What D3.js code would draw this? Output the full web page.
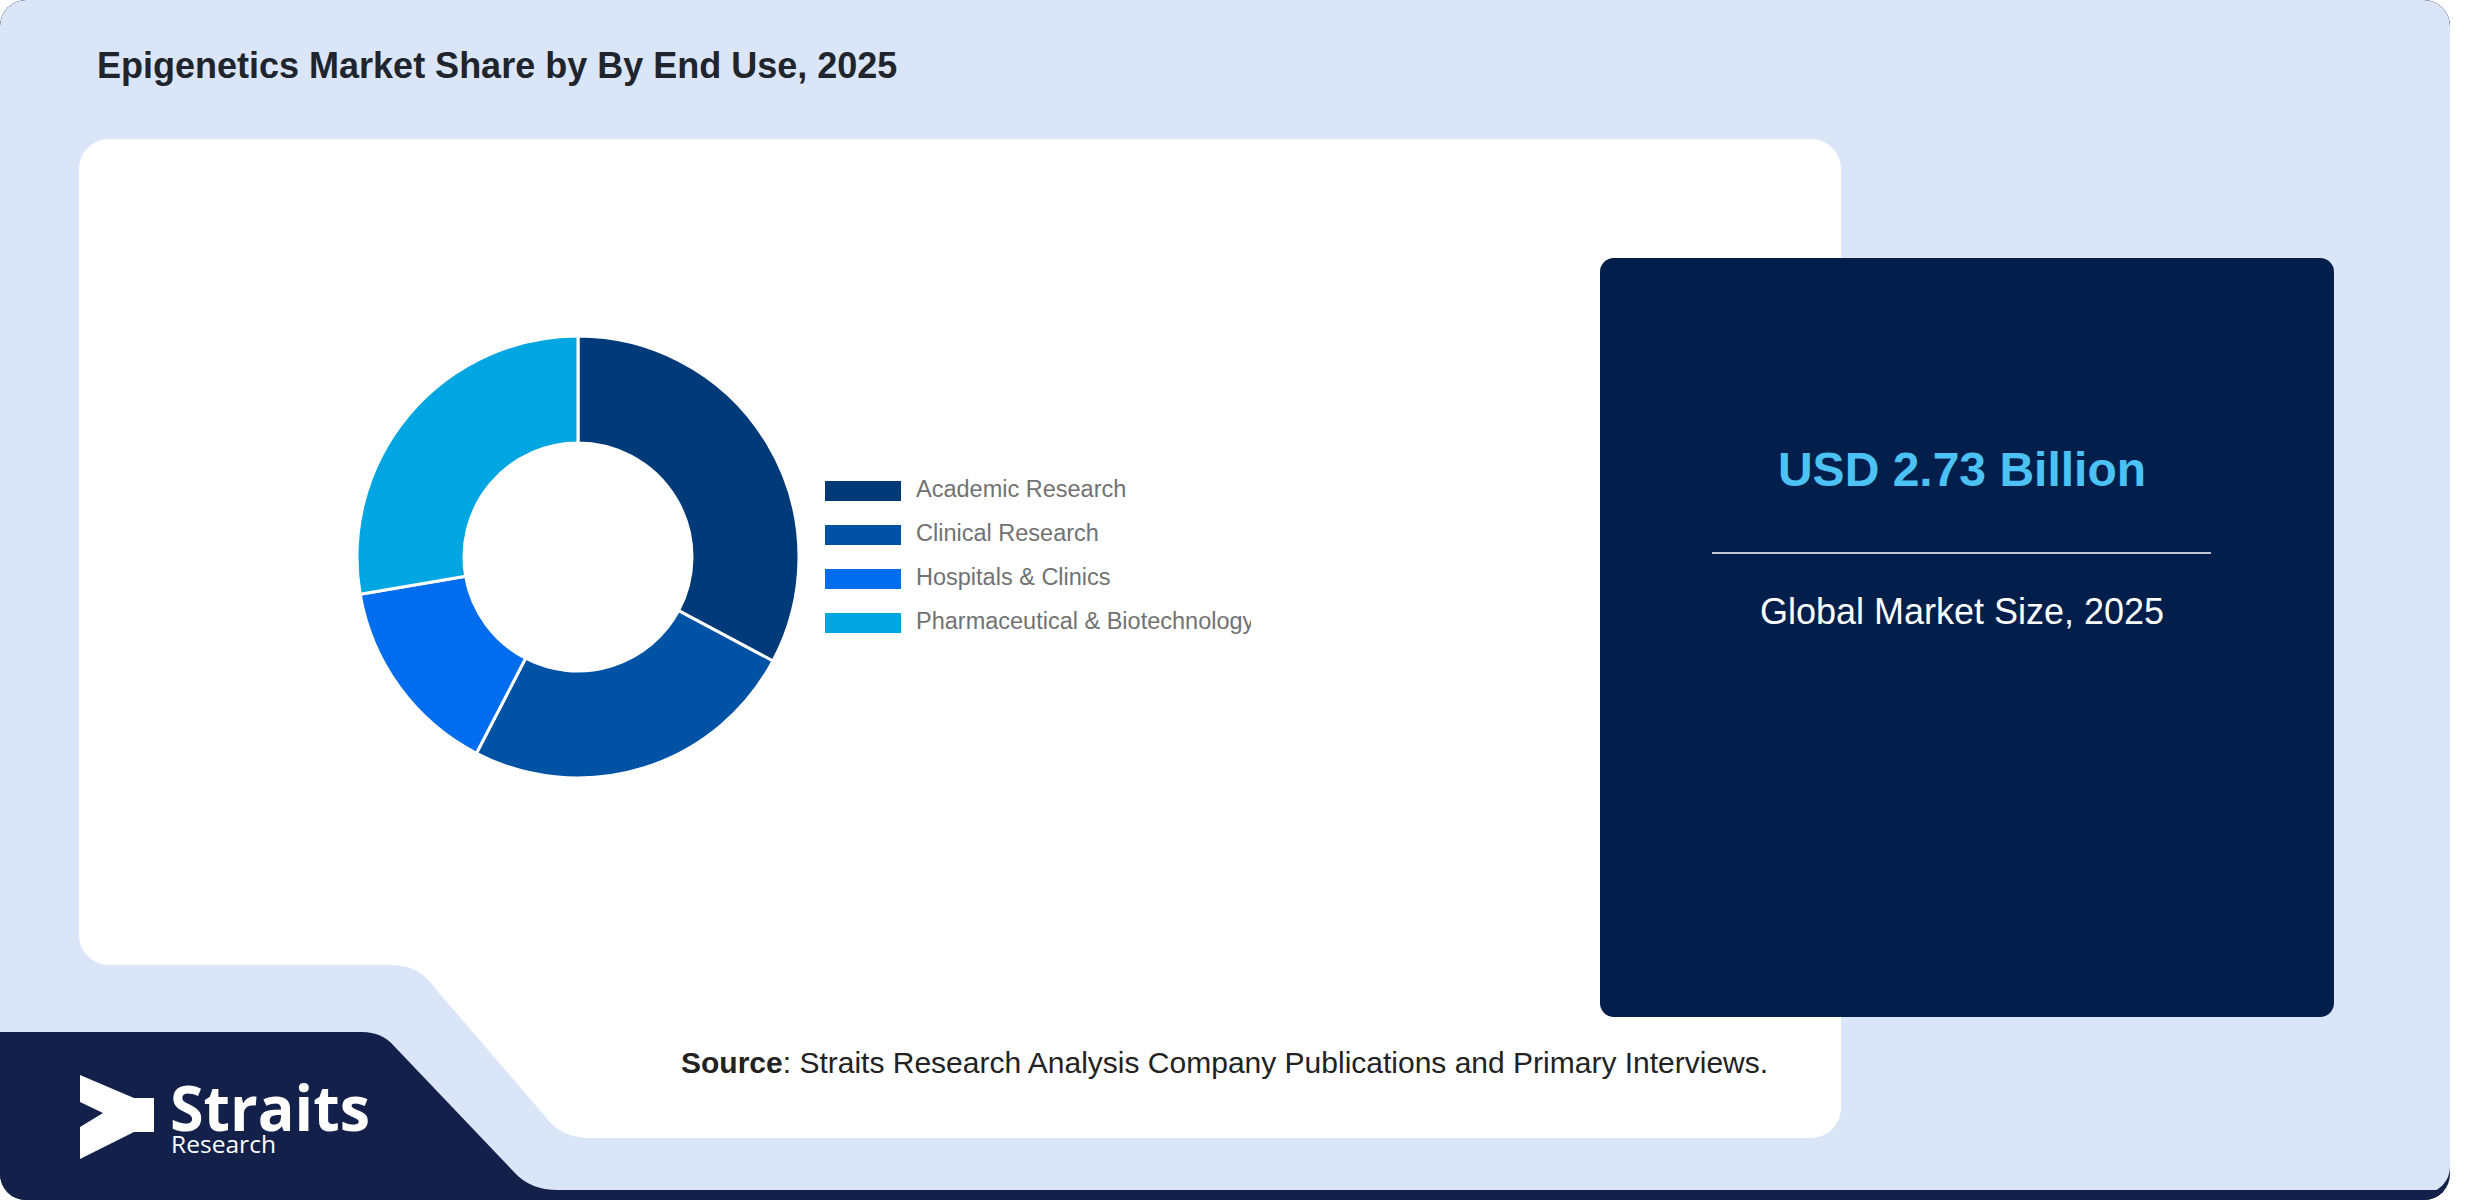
<!DOCTYPE html>
<html>
<head>
<meta charset="utf-8">
<script src="https://cdn.jsdelivr.net/npm/d3@7"></script>
<style>
  html, body { margin: 0; padding: 0; background: #ffffff; }
  svg { display: block; }
</style>
</head>
<body>
<script>
// ---- Data ----
const categories = ["Academic Research", "Clinical Research", "Hospitals & Clinics", "Pharmaceutical & Biotechnology"];
const shares = [32.8, 24.8, 14.7, 27.7];
const colors = ["#013a78", "#0052a4", "#006cee", "#00a6e2"];
const titleText = "Epigenetics Market Share by By End Use, 2025";
const marketValue = "USD 2.73 Billion";
const marketLabel = "Global Market Size, 2025";
const sourceBold = "Source";
const sourceRest = ": Straits Research Analysis Company Publications and Primary Interviews.";

const W = 2480, H = 1200;
const svg = d3.select("body").append("svg").attr("width", W).attr("height", H);
const defs = svg.append("defs");

// outer card clip
defs.append("clipPath").attr("id", "outerClip")
  .append("rect").attr("x", 0).attr("y", 0).attr("width", 2450).attr("height", 1200).attr("rx", 26).attr("ry", 26);

const outer = svg.append("g").attr("clip-path", "url(#outerClip)");
// dark strip behind
outer.append("rect").attr("x", 0).attr("y", 0).attr("width", 2450).attr("height", 1200).attr("fill", "#13204a");
// light blue card
outer.append("rect").attr("x", 0).attr("y", 0).attr("width", 2450).attr("height", 1193).attr("rx", 26).attr("ry", 26).attr("fill", "#dae6f8");

// dark logo block
outer.append("path")
  .attr("d", "M0,1032 H362 Q382,1032 394,1046 L514,1172 Q530,1190 558,1190 H2450 V1200 H0 Z")
  .attr("fill", "#13204a");

// white panel
outer.append("path")
  .attr("d", "M109,139 H1811 A30,30 0 0 1 1841,169 V1108 A30,30 0 0 1 1811,1138 H592 Q564,1138 550,1122 L434,987 Q418,965 392,965 H109 A30,30 0 0 1 79,935 V169 A30,30 0 0 1 109,139 Z")
  .attr("fill", "#ffffff");

// title
svg.append("text")
  .attr("x", 97).attr("y", 78)
  .attr("font-family", "'Liberation Sans', Arial, sans-serif")
  .attr("font-weight", "bold")
  .attr("font-size", 36)
  .attr("fill", "#20242c")
  .text(titleText);

// ---- Donut ----
const cx = 578, cy = 557;
const pie = d3.pie().sort(null).value(d => d)(shares);
const arc = d3.arc().innerRadius(114).outerRadius(221);
const donut = svg.append("g").attr("transform", `translate(${cx},${cy})`);
donut.selectAll("path").data(pie).join("path")
  .attr("d", arc)
  .attr("fill", (d, i) => colors[i])
  .attr("stroke", "#ffffff")
  .attr("stroke-width", 3);

// ---- Legend ----
defs.append("clipPath").attr("id", "legendClip")
  .append("rect").attr("x", 800).attr("y", 440).attr("width", 451).attr("height", 220);
const legend = svg.append("g").attr("clip-path", "url(#legendClip)");
const ly = d3.scalePoint().domain(categories).range([490, 622]);
const items = legend.selectAll("g").data(categories).join("g")
  .attr("transform", d => `translate(825,${ly(d)})`);
items.append("rect").attr("x", 0).attr("y", -9).attr("width", 76).attr("height", 20)
  .attr("fill", (d, i) => colors[i]);
items.append("text").attr("x", 91).attr("y", -1).attr("dy", "0.35em")
  .attr("font-family", "'Liberation Sans', Arial, sans-serif")
  .attr("font-size", 23.5)
  .attr("fill", "#727272")
  .text(d => d);

// ---- Dark info card ----
svg.append("rect").attr("x", 1600).attr("y", 258).attr("width", 734).attr("height", 759)
  .attr("rx", 14).attr("ry", 14).attr("fill", "#011f4a");
svg.append("text").attr("x", 1962).attr("y", 486).attr("text-anchor", "middle")
  .attr("font-family", "'Liberation Sans', Arial, sans-serif")
  .attr("font-weight", "bold").attr("font-size", 48)
  .attr("fill", "#4cc2f4").text(marketValue);
svg.append("line").attr("x1", 1712).attr("x2", 2211).attr("y1", 553).attr("y2", 553)
  .attr("stroke", "#ffffff").attr("stroke-width", 1.6);
svg.append("text").attr("x", 1962).attr("y", 624).attr("text-anchor", "middle")
  .attr("font-family", "'Liberation Sans', Arial, sans-serif")
  .attr("font-size", 36).attr("fill", "#ffffff").text(marketLabel);

// ---- Source ----
const src = svg.append("text").attr("x", 681).attr("y", 1073)
  .attr("font-family", "'Liberation Sans', Arial, sans-serif")
  .attr("font-size", 30).attr("fill", "#222222");
src.append("tspan").attr("font-weight", "bold").text(sourceBold);
src.append("tspan").text(sourceRest);

// ---- Logo ----
svg.append("path")
  .attr("d", "M80,1075 L134,1098 L154,1098 L154,1132 L134,1132 L80,1159 L80,1127 L103,1113 L80,1102 Z")
  .attr("fill", "#ffffff");
svg.append("text").attr("x", 170).attr("y", 1131)
  .attr("font-family", "'Open Sans', sans-serif").attr("font-weight", "bold")
  .attr("font-size", 62).attr("fill", "#ffffff")
  .attr("textLength", 200).attr("lengthAdjust", "spacingAndGlyphs")
  .text("Straits");
svg.append("text").attr("x", 171).attr("y", 1153)
  .attr("font-family", "'Open Sans', sans-serif")
  .attr("font-size", 24).attr("fill", "#ffffff")
  .attr("textLength", 105).attr("lengthAdjust", "spacingAndGlyphs")
  .text("Research");
</script>
</body>
</html>
